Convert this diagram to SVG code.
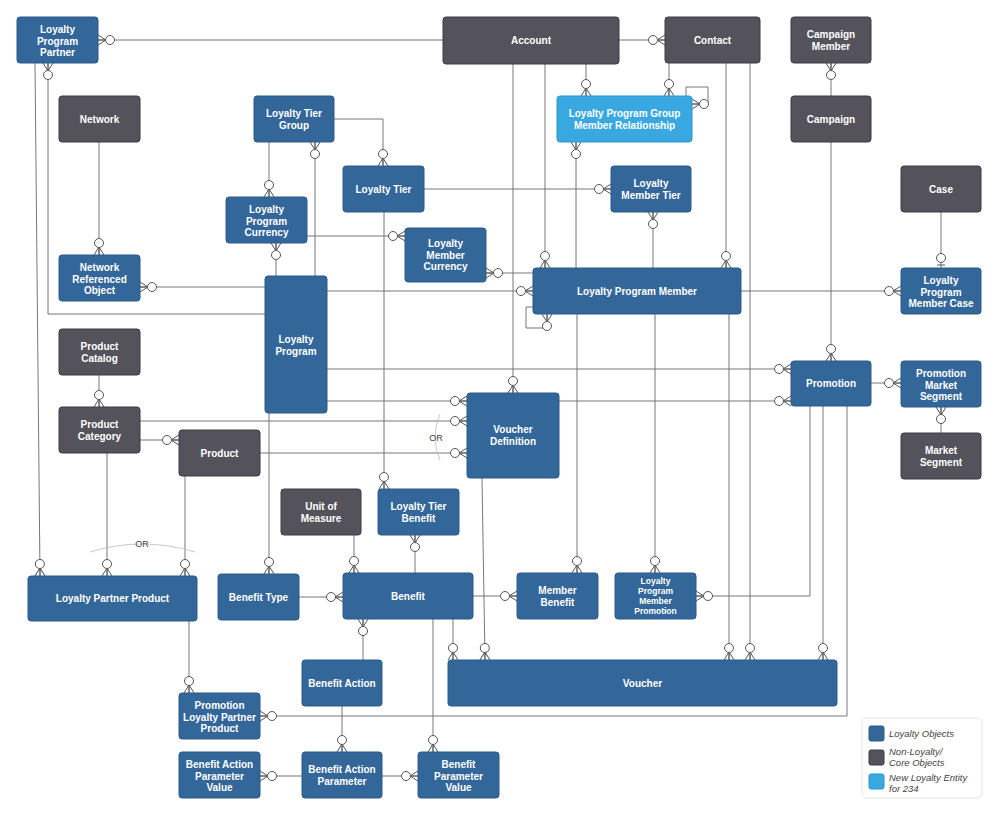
<svg xmlns="http://www.w3.org/2000/svg" width="1000" height="816" viewBox="0 0 1000 816">
<style>
.l{fill:#336699;stroke:#2a5a8a;stroke-width:1}
.c{fill:#54535b;stroke:#3c3b42;stroke-width:1}
.n{fill:#3aa8e0;stroke:#2f98cf;stroke-width:1}
text{font-family:"Liberation Sans",Arial,sans-serif;font-size:10px;font-weight:bold;fill:#fff;text-anchor:middle}
text.sm{font-size:8.5px}
.cn path{fill:none;stroke:#777;stroke-width:1;marker-end:url(#m)}
.cn path.o{marker-end:url(#o)}
.or{fill:none;stroke:#bbb;stroke-width:0.8}
.ot{fill:#444;font-weight:normal;font-size:9px}
.lg{fill:#444;font-weight:normal;font-style:italic;font-size:9.5px;text-anchor:start}
</style>
<defs>
<marker id="m" markerUnits="userSpaceOnUse" orient="auto" refX="0" refY="0" viewBox="-18 -7 19 14" markerWidth="19" markerHeight="14">
<path d="M-8,0 L0,-5 M-8,0 L0,0 M-8,0 L0,5" fill="none" stroke="#555" stroke-width="1"/>
<circle cx="-12" cy="0" r="4.5" fill="#fff" stroke="#555" stroke-width="1"/>
</marker>
<marker id="o" markerUnits="userSpaceOnUse" orient="auto" refX="0" refY="0" viewBox="-18 -7 19 14" markerWidth="19" markerHeight="14">
<path d="M-3,-4 L-3,4" fill="none" stroke="#555" stroke-width="1"/>
<circle cx="-10" cy="0" r="4.5" fill="#fff" stroke="#555" stroke-width="1"/>
</marker>
</defs>
<rect width="1000" height="816" fill="#fff"/>
<g id="connectors" class="cn">
<path d="M443,40 H98"/>
<path d="M619,40 H665"/>
<path d="M35,63 L40,576"/>
<path d="M265,314 H48 V63"/>
<path d="M99,142 V255"/>
<path d="M265,287 H140"/>
<path d="M269,142 V197"/>
<path d="M315,276 V142"/>
<path d="M334,119 H383 V166"/>
<path d="M276,276 V243"/>
<path d="M307,236 H405"/>
<path d="M533,273 H486"/>
<path d="M424,189 H611"/>
<path d="M653,268 V212"/>
<path d="M655,314 V573"/>
<path d="M586,64 V96"/>
<path d="M669,63 V96"/>
<path d="M686,96 V87 H708 V104 H692"/>
<path d="M576,268 V142"/>
<path d="M577,314 V573"/>
<path d="M545,64 V268"/>
<path d="M513,64 V393"/>
<path d="M726,63 V268"/>
<path d="M729,314 V660"/>
<path d="M750,63 V660"/>
<path d="M741,291 H901"/>
<path class="o" d="M941,212 V268"/>
<path d="M533,307 H526 V328 H547 V314"/>
<path d="M327,291 H533"/>
<path d="M831,96 V63"/>
<path d="M831,142 V361"/>
<path d="M327,369 H791"/>
<path d="M327,401 H467"/>
<path d="M559,401 H791"/>
<path d="M140,421 H467"/>
<path d="M260,453 H467"/>
<path d="M140,440 H179"/>
<path d="M99,375 V407"/>
<path d="M107,453 V576"/>
<path d="M185,476 V576"/>
<path d="M269,413 V574"/>
<path d="M384,212 V489"/>
<path d="M354,535 V573"/>
<path d="M415,573 V535"/>
<path d="M299,597 H343"/>
<path d="M473,596 H517"/>
<path d="M363,660 V619"/>
<path d="M453,619 V660"/>
<path d="M482,478 L485,660"/>
<path d="M433,619 V752"/>
<path d="M810,406 V596 H696"/>
<path d="M823,406 V660"/>
<path d="M847,406 V716 H260"/>
<path d="M871,383 H901"/>
<path d="M941,433 V407"/>
<path d="M189,621 V693"/>
<path d="M342,706 V752"/>
<path d="M302,776 H260"/>
<path d="M382,776 H418"/>
</g>
<g id="or-marks">
<path class="or" d="M440,414 Q430,437 440,460"/>
<text class="ot" x="436" y="441">OR</text>
<path class="or" d="M90,552 Q142,536 195,552"/>
<text class="ot" x="142" y="547">OR</text>
</g>
<g id="n-lppartner"><rect class="l" x="17" y="17" width="81" height="46" rx="3"/><text x="57.5" y="33">Loyalty<tspan x="57.5" dy="11.5">Program</tspan><tspan x="57.5" dy="11.5">Partner</tspan></text></g>
<g id="n-account"><rect class="c" x="443" y="17" width="176" height="47" rx="3"/><text x="531" y="44">Account</text></g>
<g id="n-contact"><rect class="c" x="665" y="17" width="95" height="46" rx="3"/><text x="712.5" y="44">Contact</text></g>
<g id="n-campmember"><rect class="c" x="791" y="17" width="80" height="46" rx="3"/><text x="831" y="38">Campaign<tspan x="831" dy="11.5">Member</tspan></text></g>
<g id="n-network"><rect class="c" x="59" y="96" width="81" height="46" rx="3"/><text x="99.5" y="123">Network</text></g>
<g id="n-ltg"><rect class="l" x="254" y="96" width="80" height="46" rx="3"/><text x="294" y="117">Loyalty Tier<tspan x="294" dy="11.5">Group</tspan></text></g>
<g id="n-lpgmr"><rect class="n" x="557" y="96" width="135" height="46" rx="3"/><text x="624.5" y="117">Loyalty Program Group<tspan x="624.5" dy="11.5">Member Relationship</tspan></text></g>
<g id="n-campaign"><rect class="c" x="791" y="96" width="80" height="46" rx="3"/><text x="831" y="123">Campaign</text></g>
<g id="n-lt"><rect class="l" x="343" y="166" width="81" height="46" rx="3"/><text x="383.5" y="193">Loyalty Tier</text></g>
<g id="n-lmt"><rect class="l" x="611" y="166" width="80" height="46" rx="3"/><text x="651" y="187">Loyalty<tspan x="651" dy="11.5">Member Tier</tspan></text></g>
<g id="n-case"><rect class="c" x="901" y="166" width="80" height="46" rx="3"/><text x="941" y="193">Case</text></g>
<g id="n-lpc"><rect class="l" x="226" y="197" width="81" height="46" rx="3"/><text x="266.5" y="213">Loyalty<tspan x="266.5" dy="11.5">Program</tspan><tspan x="266.5" dy="11.5">Currency</tspan></text></g>
<g id="n-lmc"><rect class="l" x="405" y="228" width="81" height="54" rx="3"/><text x="445.5" y="247">Loyalty<tspan x="445.5" dy="11.5">Member</tspan><tspan x="445.5" dy="11.5">Currency</tspan></text></g>
<g id="n-nro"><rect class="l" x="59" y="255" width="81" height="46" rx="3"/><text x="99.5" y="271">Network<tspan x="99.5" dy="11.5">Referenced</tspan><tspan x="99.5" dy="11.5">Object</tspan></text></g>
<g id="n-lpm"><rect class="l" x="533" y="268" width="208" height="46" rx="3"/><text x="637" y="295">Loyalty Program Member</text></g>
<g id="n-lpmc"><rect class="l" x="901" y="268" width="80" height="46" rx="3"/><text x="941" y="284">Loyalty<tspan x="941" dy="11.5">Program</tspan><tspan x="941" dy="11.5">Member Case</tspan></text></g>
<g id="n-lp"><rect class="l" x="265" y="276" width="62" height="137" rx="3"/><text x="296" y="343">Loyalty<tspan x="296" dy="11.5">Program</tspan></text></g>
<g id="n-pcatalog"><rect class="c" x="59" y="329" width="81" height="46" rx="3"/><text x="99.5" y="350">Product<tspan x="99.5" dy="11.5">Catalog</tspan></text></g>
<g id="n-promotion"><rect class="l" x="791" y="361" width="80" height="45" rx="3"/><text x="831" y="387">Promotion</text></g>
<g id="n-pms"><rect class="l" x="901" y="361" width="80" height="46" rx="3"/><text x="941" y="377">Promotion<tspan x="941" dy="11.5">Market</tspan><tspan x="941" dy="11.5">Segment</tspan></text></g>
<g id="n-vd"><rect class="l" x="467" y="393" width="92" height="85" rx="3"/><text x="513" y="433">Voucher<tspan x="513" dy="11.5">Definition</tspan></text></g>
<g id="n-pcategory"><rect class="c" x="59" y="407" width="81" height="46" rx="3"/><text x="99.5" y="428">Product<tspan x="99.5" dy="11.5">Category</tspan></text></g>
<g id="n-product"><rect class="c" x="179" y="430" width="81" height="46" rx="3"/><text x="219.5" y="457">Product</text></g>
<g id="n-ms"><rect class="c" x="901" y="433" width="80" height="46" rx="3"/><text x="941" y="454">Market<tspan x="941" dy="11.5">Segment</tspan></text></g>
<g id="n-uom"><rect class="c" x="281" y="489" width="80" height="46" rx="3"/><text x="321" y="510">Unit of<tspan x="321" dy="11.5">Measure</tspan></text></g>
<g id="n-ltb"><rect class="l" x="378" y="489" width="81" height="46" rx="3"/><text x="418.5" y="510">Loyalty Tier<tspan x="418.5" dy="11.5">Benefit</tspan></text></g>
<g id="n-lpprod"><rect class="l" x="28" y="576" width="169" height="45" rx="3"/><text x="112.5" y="602">Loyalty Partner  Product</text></g>
<g id="n-bt"><rect class="l" x="218" y="574" width="81" height="46" rx="3"/><text x="258.5" y="601">Benefit Type</text></g>
<g id="n-benefit"><rect class="l" x="343" y="573" width="130" height="46" rx="3"/><text x="408" y="600">Benefit</text></g>
<g id="n-mb"><rect class="l" x="517" y="573" width="81" height="46" rx="3"/><text x="557.5" y="594">Member<tspan x="557.5" dy="11.5">Benefit</tspan></text></g>
<g id="n-lpmp"><rect class="l" x="615" y="573" width="81" height="46" rx="3"/><text class="sm" x="655.5" y="584">Loyalty<tspan x="655.5" dy="10">Program</tspan><tspan x="655.5" dy="10">Member</tspan><tspan x="655.5" dy="10">Promotion</tspan></text></g>
<g id="n-voucher"><rect class="l" x="448" y="660" width="389" height="46" rx="3"/><text x="642.5" y="687">Voucher</text></g>
<g id="n-ba"><rect class="l" x="302" y="660" width="80" height="46" rx="3"/><text x="342" y="687">Benefit Action</text></g>
<g id="n-plpp"><rect class="l" x="179" y="693" width="81" height="46" rx="3"/><text x="219.5" y="709">Promotion<tspan x="219.5" dy="11.5">Loyalty Partner</tspan><tspan x="219.5" dy="11.5">Product</tspan></text></g>
<g id="n-bapv"><rect class="l" x="179" y="752" width="81" height="46" rx="3"/><text x="219.5" y="768">Benefit  Action<tspan x="219.5" dy="11.5">Parameter</tspan><tspan x="219.5" dy="11.5">Value</tspan></text></g>
<g id="n-bap"><rect class="l" x="302" y="752" width="80" height="46" rx="3"/><text x="342" y="773">Benefit Action<tspan x="342" dy="11.5">Parameter</tspan></text></g>
<g id="n-bpv"><rect class="l" x="418" y="752" width="81" height="46" rx="3"/><text x="458.5" y="768">Benefit<tspan x="458.5" dy="11.5">Parameter</tspan><tspan x="458.5" dy="11.5">Value</tspan></text></g>
<g id="legend">
<rect x="862" y="718" width="120" height="80" rx="5" fill="#fff" stroke="#e6e6e6"/>
<rect class="l" x="869" y="726" width="15" height="15" rx="2"/>
<text class="lg" x="889" y="737">Loyalty Objects</text>
<rect class="c" x="869" y="750" width="15" height="15" rx="2"/>
<text class="lg" x="889" y="755">Non-Loyalty/<tspan x="889" dy="11">Core Objects</tspan></text>
<rect class="n" x="869" y="774" width="15" height="15" rx="2"/>
<text class="lg" x="889" y="781">New Loyalty Entity<tspan x="889" dy="11">for 234</tspan></text>
</g>
</svg>
